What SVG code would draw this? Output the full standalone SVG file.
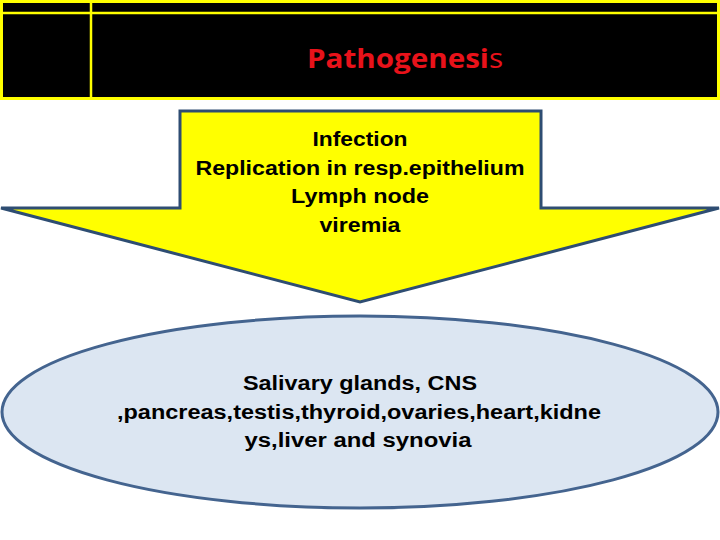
<svg xmlns="http://www.w3.org/2000/svg" width="720" height="540" viewBox="0 0 720 540">
<style>
.hdr{fill:#000;stroke:#ffff00;stroke-width:3}
.hl{stroke:#ffff00;stroke-width:2.5}
.t{font-family:"Liberation Sans",Arial,sans-serif;font-weight:bold;font-size:20px;fill:#000;text-anchor:middle}
</style>
<rect width="720" height="540" fill="#fff"/>
<g id="header">
<rect class="hdr" x="1.5" y="1.5" width="717" height="97"/>
<line class="hl" x1="0" y1="13" x2="720" y2="13"/>
<line class="hl" x1="91" y1="0" x2="91" y2="100"/>
<text x="405" y="68" font-family="'Open Sans','Noto Sans',sans-serif" font-weight="bold" font-size="27" fill="#e8121a" text-anchor="middle" textLength="196" lengthAdjust="spacingAndGlyphs">Pathogenesi<tspan font-weight="normal">s</tspan></text>
</g>
<g id="arrow">
<path d="M180,111 H541 V208 H719 L360,302 L1,208 H180 Z" fill="#ffff00" stroke="#2e4d72" stroke-width="3" stroke-linejoin="miter"/>
<text class="t" x="360" y="146" textLength="95" lengthAdjust="spacingAndGlyphs">Infection</text>
<text class="t" x="360" y="175" textLength="329" lengthAdjust="spacingAndGlyphs">Replication in resp.epithelium</text>
<text class="t" x="360" y="203" textLength="138" lengthAdjust="spacingAndGlyphs">Lymph node</text>
<text class="t" x="360" y="232" textLength="81" lengthAdjust="spacingAndGlyphs">viremia</text>
</g>
<g id="organs">
<ellipse cx="360" cy="412" rx="358" ry="96" fill="#dce6f2" stroke="#44648f" stroke-width="3"/>
<text class="t" x="360" y="390" textLength="234" lengthAdjust="spacingAndGlyphs">Salivary glands, CNS</text>
<text class="t" x="359" y="419" textLength="484" lengthAdjust="spacingAndGlyphs">,pancreas,testis,thyroid,ovaries,heart,kidne</text>
<text class="t" x="358" y="447" textLength="227" lengthAdjust="spacingAndGlyphs">ys,liver and synovia</text>
</g>
</svg>
